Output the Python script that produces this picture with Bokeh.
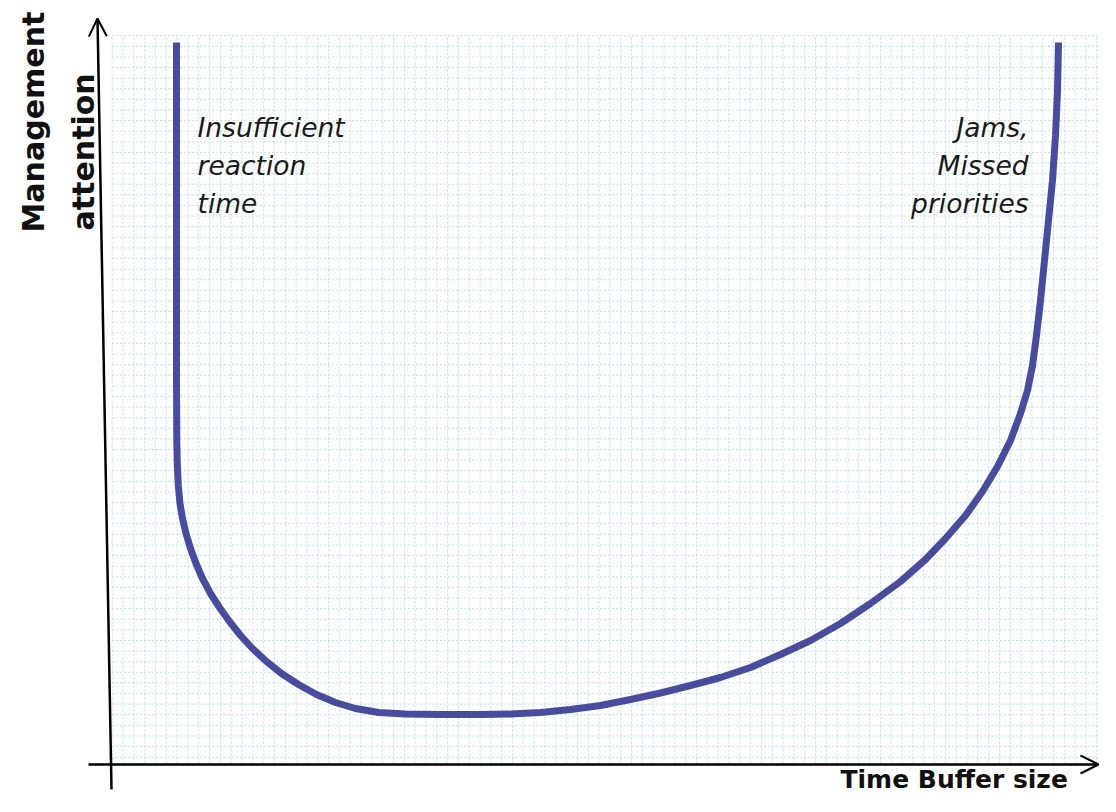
import numpy as np
from bokeh.plotting import figure
from bokeh.models import Range1d, Arrow, OpenHead
from bokeh.core.properties import value
from bokeh.embed import file_html
from bokeh.resources import INLINE

# ---- data (units: buffer size / attention, 1 unit = 10 px) ----
buffer_size = [6.6, 6.6, 6.63, 6.68, 6.78, 6.95, 7.2, 7.55, 8.0, 8.55, 9.2, 10.0,
               10.9, 11.9, 13.0, 14.2, 15.6, 17.1, 18.8, 20.6, 22.5, 24.5, 26.8,
               29.5, 33.0, 37.0, 40.0, 43.0, 46.0, 49.0, 52.0, 55.0, 58.0, 61.0,
               64.0, 67.0, 70.0, 73.0, 76.0, 79.0, 81.5, 83.5, 85.5, 87.2, 88.7,
               90.0, 91.0, 91.7, 92.2, 92.6, 93.0, 93.4, 93.8, 94.2, 94.5, 94.7,
               94.8]
attention = [72.2, 38.4, 32.4, 29.9, 27.9, 26.1, 24.6, 23.1, 21.6, 20.1, 18.6, 17.1,
             15.7, 14.3, 12.9, 11.6, 10.3, 9.1, 8.0, 7.0, 6.2, 5.6, 5.2,
             5.05, 5.0, 5.0, 5.04, 5.2, 5.5, 5.9, 6.5, 7.15, 7.9, 8.7,
             9.7, 11.0, 12.4, 14.1, 16.1, 18.3, 20.5, 22.6, 24.9, 27.3, 29.8,
             32.4, 35.1, 37.4, 39.9, 42.9, 46.4, 50.4, 54.4, 58.4, 62.9, 67.4,
             72.2]

left_note = ["Insufficient", "reaction", "time"]
right_note = ["Jams,", "Missed", "priorities"]
note_baselines = [63.7, 59.9, 56.1]

x_label = "Time Buffer size"
y_label = ["Management", "attention"]

# ---- figure ----
p = figure(width=1100, height=796, output_backend="svg", toolbar_location=None,
           x_range=Range1d(-11.0, 99.0), y_range=Range1d(-3.2, 76.4),
           min_border=0, border_fill_color="white", background_fill_color="white")
p.axis.visible = False
p.grid.visible = False
p.outline_line_color = None

# grid paper
gx = np.arange(0.17, 98.9, 1.082)
gy = np.arange(0.73, 73.0, 1.061)
p.segment(x0=gx, y0=np.full(len(gx), 0.1), x1=gx, y1=np.full(len(gx), 72.9),
          line_color="#b7e2e8", line_width=1, line_dash="2 2")
p.segment(x0=np.full(len(gy), 0.17), y0=gy, x1=np.full(len(gy), 99.0), y1=gy,
          line_color="#b7e2e8", line_width=1, line_dash="2 2")

# axes with arrows
p.add_layout(Arrow(end=OpenHead(size=18, line_width=2, line_color="black"),
                   x_start=0.1, y_start=-2.5, x_end=-1.3, y_end=74.6,
                   line_width=2.5, line_color="black"))
p.add_layout(Arrow(end=OpenHead(size=18, line_width=2, line_color="black"),
                   x_start=-2.2, y_start=0.0, x_end=98.8, y_end=0.0,
                   line_width=2.5, line_color="black"))

# curve
p.line(buffer_size, attention, line_color="#474ca0", line_width=7,
       line_join="round", line_cap="butt")

# notes
p.text(x=[8.7] * 3, y=note_baselines, text=left_note,
       text_font=value("DejaVu Sans"), text_font_style="italic",
       text_font_size="26.5px", text_color="#1a1a1a",
       text_align="left", text_baseline="alphabetic")
p.text(x=[91.8] * 3, y=note_baselines, text=right_note,
       text_font=value("DejaVu Sans"), text_font_style="italic",
       text_font_size="26.5px", text_color="#1a1a1a",
       text_align="right", text_baseline="alphabetic")

# axis labels
p.text(x=[73.0], y=[-1.45], text=[x_label], text_font=value("DejaVu Sans"),
       text_font_style="bold", text_font_size="25px", text_color="#111111",
       text_align="left", text_baseline="alphabetic")
p.text(x=[-7.7, -2.7], y=[53.2, 53.4], text=y_label, angle=np.pi / 2,
       text_font=value("DejaVu Sans"), text_font_style="bold",
       text_font_size="30px", text_color="#111111",
       text_align="left", text_baseline="alphabetic")

open("out.html", "w").write(file_html(p, INLINE))
